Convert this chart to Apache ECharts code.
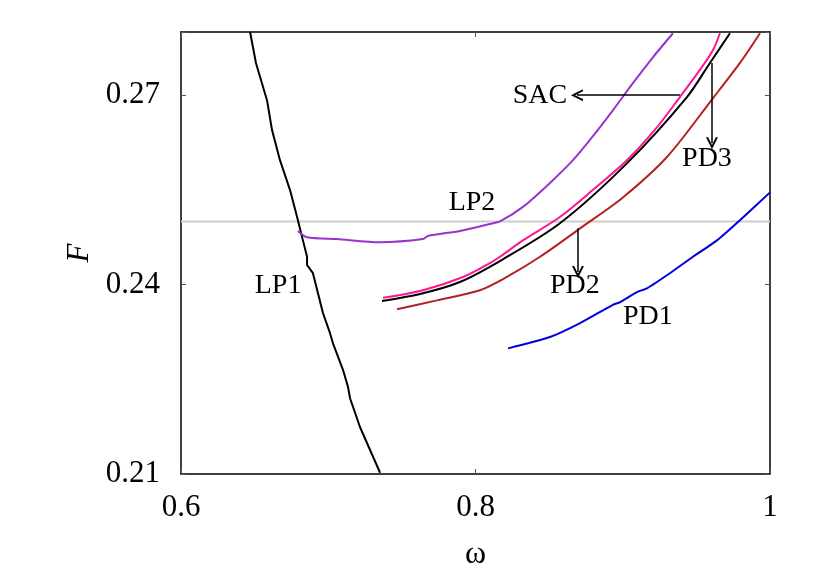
<!DOCTYPE html>
<html>
<head>
<meta charset="utf-8">
<script src="https://cdn.jsdelivr.net/npm/echarts@6/dist/echarts.min.js"></script>
<style>
  html, body { margin: 0; padding: 0; background: #fff; }
  #chart { width: 830px; height: 580px; }
</style>
</head>
<body>
<div id="chart"></div>
<script>
// Bifurcation curves in the (omega, F) plane.
const LP1 = [
  [0.6469, 0.2800], [0.6509, 0.2751], [0.6584, 0.2692], [0.6618, 0.2645],
  [0.6672, 0.2597], [0.6740, 0.2550], [0.6794, 0.2502], [0.6815, 0.2482],
  [0.6828, 0.2470], [0.6856, 0.2444], [0.6856, 0.2431], [0.6896, 0.2418],
  [0.6964, 0.2355], [0.7012, 0.2323], [0.7032, 0.2307], [0.7100, 0.2265],
  [0.7134, 0.2238], [0.7148, 0.2220], [0.7216, 0.2174], [0.7352, 0.2102],
];
const LP2 = [
  [0.6794, 0.2485], [0.6856, 0.2475], [0.7059, 0.2472], [0.7351, 0.2467],
  [0.7643, 0.2472], [0.7677, 0.2477], [0.7894, 0.2485], [0.8098, 0.2496],
  [0.8166, 0.2500], [0.8322, 0.2523], [0.8506, 0.2561], [0.8662, 0.2597],
  [0.8777, 0.2629], [0.8933, 0.2676], [0.9069, 0.2719], [0.9205, 0.2760],
  [0.9341, 0.2798],
];
const SAC_PINK = [
  [0.7372, 0.2379], [0.7643, 0.2391], [0.7915, 0.2412], [0.8098, 0.2434],
  [0.8166, 0.2444], [0.8322, 0.2470], [0.8573, 0.2507], [0.8798, 0.2550],
  [0.9028, 0.2597], [0.9232, 0.2649], [0.9388, 0.2697], [0.9524, 0.2740],
  [0.9612, 0.2771], [0.9660, 0.2798],
];
const PD3 = [
  [0.7365, 0.2374], [0.7623, 0.2385], [0.7894, 0.2404], [0.8186, 0.2440],
  [0.8573, 0.2497], [0.9028, 0.2592], [0.9436, 0.2697], [0.9592, 0.2751],
  [0.9728, 0.2798],
];
const PD2 = [
  [0.7467, 0.2361], [0.7738, 0.2375], [0.8030, 0.2391], [0.8213, 0.2412],
  [0.8438, 0.2444], [0.8710, 0.2489], [0.9001, 0.2538], [0.9300, 0.2602],
  [0.9612, 0.2695], [0.9796, 0.2751], [0.9932, 0.2798],
];
const PD1 = [
  [0.8221, 0.2299], [0.8506, 0.2317], [0.8710, 0.2339], [0.8933, 0.2368],
  [0.8981, 0.2372], [0.9096, 0.2388], [0.9164, 0.2394], [0.9320, 0.2418],
  [0.9477, 0.2444], [0.9640, 0.2470], [0.9796, 0.2502], [1.0000, 0.2546],
];
const F_REF = 0.25; // grey horizontal level

// text labels [omega, F, text]
const LABELS = [
  [0.8438, 0.2700, "SAC"], [0.7976, 0.2529, "LP2"], [0.6659, 0.2399, "LP1"],
  [0.8675, 0.2399, "PD2"], [0.9572, 0.2600, "PD3"], [0.9171, 0.2349, "PD1"],
];
// arrows [from, to]
const ARROWS = [
  [[0.9388, 0.2700], [0.8689, 0.2700]],
  [[0.9606, 0.2751], [0.9606, 0.2624]],
  [[0.8696, 0.2489], [0.8696, 0.2420]],
];

const FONT = "'Liberation Serif', 'Times New Roman', serif";
const CHEVRON = "path://M0,10 L5,0 L10,10 L8.2,10 L5,3.4 L1.8,10 Z";

function curve(data, color, smooth) {
  return {
    type: "line", data: data, showSymbol: false, symbol: "none", smooth: smooth || false,
    lineStyle: { color: color, width: 2 }, z: 3, silent: true,
  };
}

const chart = echarts.init(document.getElementById("chart"), null, { renderer: "canvas" });

const axisLine = { show: true, lineStyle: { color: "#000", width: 1.5 } };
const tick = { show: true, inside: true, length: 5, lineStyle: { color: "#555", width: 1 } };

chart.setOption({
  animation: false,
  backgroundColor: "#fff",
  textStyle: { fontFamily: FONT },
  grid: { left: 181, right: 60, top: 32, bottom: 106, containLabel: false },
  xAxis: [
    {
      type: "value", min: 0.6, max: 1, interval: 0.2, position: "bottom",
      name: "ω", nameLocation: "middle", nameGap: 65,
      nameTextStyle: { fontFamily: FONT, fontSize: 32, color: "#000" },
      axisLine: axisLine, axisTick: tick, splitLine: { show: false },
      axisLabel: { fontFamily: FONT, fontSize: 31, color: "#000", margin: 18 },
    },
    {
      type: "value", min: 0.6, max: 1, interval: 0.2, position: "top",
      axisLine: axisLine, axisTick: tick, splitLine: { show: false },
      axisLabel: { show: false },
    },
  ],
  yAxis: [
    {
      type: "value", min: 0.21, max: 0.28, interval: 0.03, position: "left",
      name: "F", nameLocation: "middle", nameGap: 77,
      nameTextStyle: { fontFamily: FONT, fontSize: 31, fontStyle: "italic", color: "#000" },
      axisLine: axisLine, axisTick: tick, splitLine: { show: false },
      axisLabel: {
        fontFamily: FONT, fontSize: 31, color: "#000", margin: 21,
        formatter: (v) => (Math.abs(v - 0.28) < 1e-9 ? "" : v.toFixed(2)),
      },
    },
    {
      type: "value", min: 0.21, max: 0.28, interval: 0.03, position: "right",
      axisLine: axisLine, axisTick: tick, splitLine: { show: false },
      axisLabel: { show: false },
    },
  ],
  series: [
    {
      type: "line", data: [[0.6, F_REF], [1, F_REF]], showSymbol: false, symbol: "none",
      lineStyle: { color: "#cccccc", width: 2 }, z: 1, silent: true,
    },
    curve(LP1, "#000000"),
    curve(LP2, "#9933cc", 0.25),
    curve(PD2, "#b22222", 0.3),
    curve(PD1, "#0000dd", 0.2),
    curve(SAC_PINK, "#ff1493", 0.3),
    curve(PD3, "#000000", 0.3),
    {
      type: "lines", coordinateSystem: "cartesian2d", z: 4, silent: true,
      symbol: ["none", CHEVRON], symbolSize: [15, 12],
      lineStyle: { color: "#000", width: 1.5, opacity: 1 },
      data: ARROWS.map((a) => ({ coords: a })),
    },
    {
      type: "scatter", symbolSize: 0, z: 5, silent: true,
      itemStyle: { opacity: 1, color: "#000" },
      data: LABELS.map((l) => ({ value: [l[0], l[1]], name: l[2] })),
      label: {
        show: true, position: "inside", formatter: "{b}",
        fontFamily: FONT, fontSize: 28, color: "#000", textBorderWidth: 0,
      },
    },
  ],
});
</script>
</body>
</html>
